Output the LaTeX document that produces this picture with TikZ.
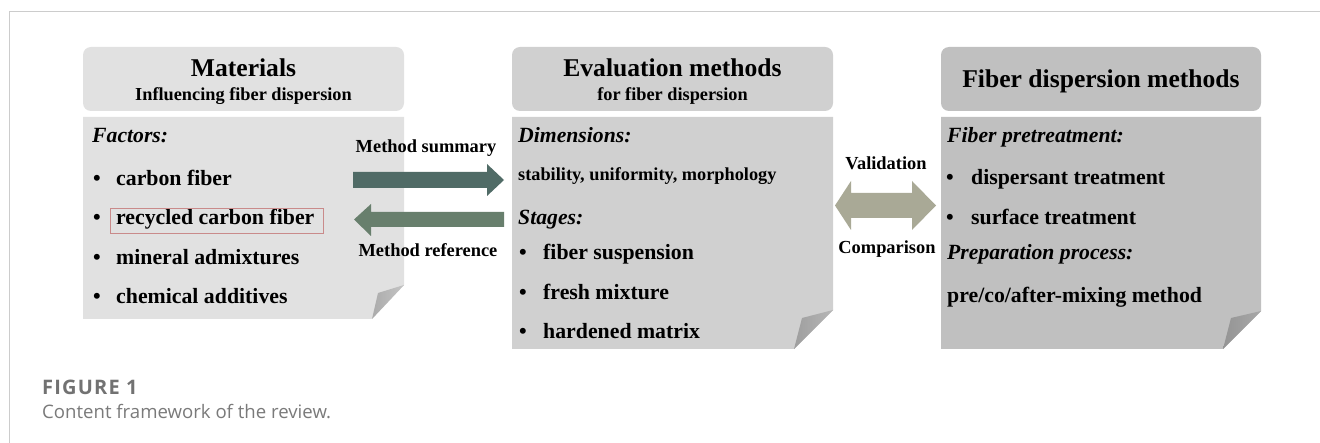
\documentclass[tikz,border=0pt]{standalone}
\usepackage{fontspec}
\setmainfont{Liberation Serif}
\newfontfamily\capfont{Open Sans}
\newfontfamily\capfontwide[LetterSpace=6]{Open Sans}
\begin{document}
\begin{tikzpicture}[x=1pt,y=-1pt,
  hdr/.style={rounded corners=8pt, minimum width=321pt, minimum height=64pt, inner sep=0pt},
  ttl/.style={font=\fontsize{25.6}{28}\selectfont\bfseries, inner sep=0pt, anchor=base},
  sub/.style={font=\fontsize{18.3}{20}\selectfont\bfseries, inner sep=0pt, anchor=base},
  lbl/.style={font=\fontsize{21.7}{24}\selectfont\bfseries\itshape, inner sep=0pt, anchor=base west},
  itm/.style={font=\fontsize{21.8}{24}\selectfont\bfseries, inner sep=0pt, anchor=base west},
  sml/.style={font=\fontsize{18.3}{20}\selectfont\bfseries, inner sep=0pt, anchor=base west},
  arl/.style={font=\fontsize{18.4}{20}\selectfont\bfseries, inner sep=0pt, anchor=base},
  captxt/.style={inner sep=0pt, anchor=base west}]
\definecolor{frameg}{HTML}{CCCCCC}
\definecolor{boxA}{HTML}{E1E1E1}
\definecolor{boxB}{HTML}{D0D0D0}
\definecolor{boxC}{HTML}{C0C0C0}
\definecolor{flapA}{HTML}{ABABAB}
\definecolor{flapAl}{HTML}{C4C4C4}
\definecolor{flapB}{HTML}{9E9E9E}
\definecolor{flapBl}{HTML}{B6B6B6}
\definecolor{flapC}{HTML}{949494}
\definecolor{flapCl}{HTML}{A8A8A8}
\definecolor{arrSum}{HTML}{506B66}
\definecolor{arrRef}{HTML}{687F6D}
\definecolor{arrVal}{HTML}{A9A996}
\definecolor{markred}{HTML}{C98A8A}
\definecolor{capg}{HTML}{727272}
\definecolor{capt}{HTML}{7A7A7A}

\useasboundingbox (0,0) rectangle (1320,443);
\fill[white] (0,0) rectangle (1320,443);

% panel frame
\draw[frameg, line width=1pt] (9,443) -- (9,12) -- (1320,12);

% ---- left column: materials ----
\node[hdr, fill=boxA] (hA) at (243.5,79) {};
\fill[boxA] (83,117) -- (404,117) -- (404,285) -- (372,319) -- (83,319) -- cycle;
\shade[left color=flapA, right color=flapAl] (404,285) -- (378,293) -- (372,319) -- cycle;
\node[ttl] (tA) at (243.5,77) {Materials};
\node[sub] (sA) at (243.5,101) {Influencing fiber dispersion};
\node[lbl] (fA) at (92,143) {Factors:};
\foreach \y/\t [count=\i] in {186/carbon fiber,225/recycled carbon fiber,265/mineral admixtures,304/chemical additives}{
  \node[itm] (bA\i) at (93,\y) {•};
  \node[itm] (iA\i) at (116,\y) {\t};
}
\node[draw=markred, line width=0.8pt, anchor=base west, inner sep=0pt, minimum width=213pt,
      text height=17pt, text depth=8pt] (rc) at (110,225) {};

% ---- middle column: evaluation methods ----
\node[hdr, fill=boxB] (hB) at (672.5,79) {};
\fill[boxB] (512,117) -- (833,117) -- (833,310) -- (794,349) -- (512,349) -- cycle;
\shade[left color=flapB, right color=flapBl] (833,310) -- (802,318) -- (794,349) -- cycle;
\node[ttl] (tB) at (672.5,77) {Evaluation methods};
\node[sub] (sB) at (672.5,101) {for fiber dispersion};
\node[lbl] (dB) at (518,143) {Dimensions:};
\node[sml] (dimB) at (518,181) {stability, uniformity, morphology};
\node[lbl] (stB) at (518,225) {Stages:};
\foreach \y/\t [count=\i] in {260/fiber suspension,300/fresh mixture,339/hardened matrix}{
  \node[itm] (bB\i) at (519,\y) {•};
  \node[itm] (iB\i) at (543,\y) {\t};
}

% ---- right column: dispersion methods ----
\node[hdr, fill=boxC, minimum width=320pt] (hC) at (1101,79) {};
\fill[boxC] (941,117) -- (1261,117) -- (1261,311) -- (1223,349) -- (941,349) -- cycle;
\shade[left color=flapC, right color=flapCl] (1261,311) -- (1231,318) -- (1223,349) -- cycle;
\node[ttl] (tC) at (1101,88) {Fiber dispersion methods};
\node[lbl] (pC) at (947,143) {Fiber pretreatment:};
\foreach \y/\t [count=\i] in {185/dispersant treatment,225/surface treatment}{
  \node[itm] (bC\i) at (946,\y) {•};
  \node[itm] (iC\i) at (971,\y) {\t};
}
\node[lbl] (ppC) at (947,260) {Preparation process:};
\node[itm] (mC) at (947,303) {pre/co/after-mixing method};

% ---- block arrows between columns ----
\coordinate (sumT) at (353,180);
\coordinate (sumH) at (504,180);
\fill[arrSum] (sumT) ++(0,-8) -- (487,172) -- (487,164) -- (sumH) -- (487,196) -- (487,188) -- (353,188) -- cycle;
\node[arl] (lsum) at (426,153) {Method summary};

\coordinate (refT) at (504,219.5);
\coordinate (refH) at (354,219.5);
\fill[arrRef] (refT) ++(0,-7.5) -- (371,212) -- (371,204) -- (refH) -- (371,236) -- (371,227) -- (504,227) -- cycle;
\node[arl] (lref) at (428,257) {Method reference};

\coordinate (valL) at (835,205.5);
\coordinate (valR) at (936,205.5);
\fill[arrVal] (valL) -- (851,181) -- (851,193) -- (912,193) -- (912,181) -- (valR)
  -- (912,230) -- (912,218) -- (851,218) -- (851,230) -- cycle;
\node[arl] (lval) at (886,170) {Validation};
\node[arl] (lcmp) at (887,254) {Comparison};

% ---- caption ----
\node[captxt, text=capg, font=\capfontwide\bfseries\fontsize{20}{22}\selectfont] (fig) at (42,395) {FIGURE 1};
\node[captxt, text=capt, font=\capfont\fontsize{18.6}{20}\selectfont] (ctext) at (42,418) {Content framework of the review.};
\end{tikzpicture}
\end{document}
